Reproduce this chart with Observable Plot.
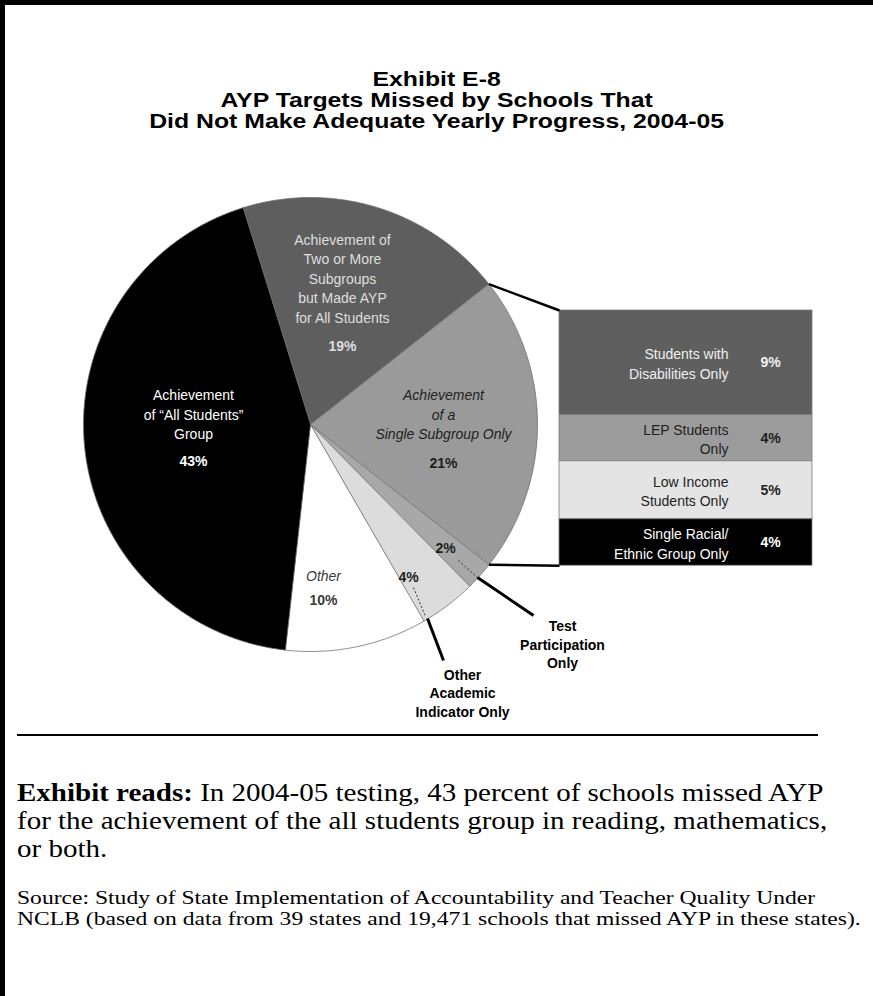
<!DOCTYPE html>
<html><head><meta charset="utf-8">
<script src="https://cdn.jsdelivr.net/npm/d3@7"></script>
<script src="https://cdn.jsdelivr.net/npm/@observablehq/plot@0.6"></script>
<style>
html,body{margin:0;padding:0;background:#fff;}
#page{position:relative;width:873px;height:996px;overflow:hidden;background:#fff;}
#bl{position:absolute;left:0;top:0;width:5px;height:996px;background:#000}
#bt{position:absolute;left:0;top:0;width:873px;height:5px;background:#000}
#title{position:absolute;top:69px;left:0;width:873px;text-align:center;font-family:"Liberation Sans",Arial,sans-serif;font-weight:bold;font-size:20px;line-height:21px;transform:scaleX(1.24);transform-origin:436px 0;}
#chart{position:absolute;left:0;top:170px;}
#rule{position:absolute;left:17px;top:734px;width:801px;height:2px;background:#000}
#reads{position:absolute;left:17px;top:779px;font-family:"Liberation Serif","Times New Roman",serif;font-size:25px;line-height:28px;white-space:nowrap;transform:scaleX(1.16);transform-origin:0 0;}
#source{position:absolute;left:17px;top:888px;font-family:"Liberation Serif","Times New Roman",serif;font-size:18px;line-height:21px;white-space:nowrap;transform:scaleX(1.31);transform-origin:0 0;}
</style></head>
<body>
<div id="page">
  <div id="bl"></div><div id="bt"></div>
  <div id="title">Exhibit E-8<br>AYP Targets Missed by Schools That<br>Did Not Make Adequate Yearly Progress, 2004-05</div>
  <div id="chart"></div>
  <div id="rule"></div>
  <div id="reads"><b>Exhibit reads:</b> In 2004-05 testing, 43 percent of schools missed AYP<br>for the achievement of the all students group in reading, mathematics,<br>or both.</div>
  <div id="source">Source: Study of State Implementation of Accountability and Teacher Quality Under<br>NCLB (based on data from 39 states and 19,471 schools that missed AYP in these states).</div>
</div>
<script>
// ---------- DATA ----------
const sliceNames = [
  "Achievement of\nTwo or More\nSubgroups\nbut Made AYP\nfor All Students",
  "Achievement\nof a\nSingle Subgroup Only",
  "Test\nParticipation\nOnly",
  "Other\nAcademic\nIndicator Only",
  "Other",
  "Achievement\nof \u201CAll Students\u201D\nGroup"
];
const slicePercents = [19, 21, 2, 4, 10, 43];

const subgroupNames = [
  "Students with\nDisabilities Only",
  "LEP Students\nOnly",
  "Low Income\nStudents Only",
  "Single Racial/\nEthnic Group Only"
];
const subgroupPercents = [9, 4, 5, 4];

// ---------- STYLES / LAYOUT ----------
const sliceFill = ["#5e5e5e", "#9a9a9a", "#a8a8a8", "#dcdcdc", "#ffffff", "#000000"];
const nameColor = ["#dedede", "#1e1e1e", "#000000", "#000000", "#3a3a3a", "#ffffff"];
const pctColor  = ["#dedede", "#1e1e1e", "#1e1e1e", "#1e1e1e", "#3a3a3a", "#ffffff"];
const nameStyle = ["normal", "italic", "normal", "normal", "italic", "normal"];
const nameWeight = ["normal", "normal", "bold", "bold", "normal", "normal"];
const nameLine = [1.4, 1.4, 1.35, 1.3, 1.4, 1.4];
// label offsets from pie centre in px (x right, y down)
const namePos = [[32,-147],[133,-11],[252,219],[152,268],[13,150],[-117,-11]];
const pctPos  = [[32,-78],[133,39],[135,124],[98,153],[13,176],[-117,37]];
const subFill = ["#5f5f5f", "#9c9c9c", "#e4e4e4", "#000000"];
const subText = ["#f0f0f0", "#1e1e1e", "#1e1e1e", "#ffffff"];

const W = 873, H = 560, RPX = 227, CXP = 310, CYP = 254;
const u = px => px / RPX;                 // px -> data units
const START = -17.3 * Math.PI / 180;
const BOX = {left: 249, right: 502, top: -114}; // px relative to pie centre
const PXPCT = 11.6;                         // px per percent in breakdown

// ---------- GEOMETRY ----------
const arcs = d3.pie().sort(null).startAngle(START).endAngle(START + 2 * Math.PI)(slicePercents);
const polar = (a, r) => ({x: Math.sin(a) * r, y: Math.cos(a) * r});
function slicePoly(arc) {
  const pts = [{x: 0, y: 0}];
  const n = Math.max(3, Math.ceil((arc.endAngle - arc.startAngle) / (Math.PI / 360)));
  for (let i = 0; i <= n; i++) pts.push(polar(arc.startAngle + (arc.endAngle - arc.startAngle) * i / n, 1));
  return pts;
}

const sliceMarks = arcs.map((a, i) =>
  Plot.line(slicePoly(a), {x: "x", y: "y", curve: "linear-closed", fill: sliceFill[i], stroke: "#6e6e6e", strokeWidth: 0.8}));

const nameData = sliceNames.map((t, i) => ({t, i, x: u(namePos[i][0]), y: -u(namePos[i][1])}));
const pctData = slicePercents.map((v, i) => ({t: v + "%", i, x: u(pctPos[i][0]), y: -u(pctPos[i][1])}));

const nameMarks = nameData.map(d => Plot.text([d], {x: "x", y: "y", text: "t", fill: nameColor[d.i], fontStyle: nameStyle[d.i], fontWeight: nameWeight[d.i], fontSize: 14, lineHeight: nameLine[d.i]}));
const pctMarks = pctData.map(d => Plot.text([d], {x: "x", y: "y", text: "t", fill: pctColor[d.i], fontWeight: "bold", fontSize: 14}));

// breakdown box as a stack
let cum = 0;
const rows = subgroupPercents.map((v, i) => {
  const y1 = u(-BOX.top) - u(cum * PXPCT);
  cum += v;
  const y2 = u(-BOX.top) - u(cum * PXPCT);
  return {i, name: subgroupNames[i], pct: v + "%", y1, y2, ym: (y1 + y2) / 2, x1: u(BOX.left), x2: u(BOX.right)};
});
const boxBottom = rows[rows.length - 1].y2;

const pTop = polar(arcs[1].startAngle, 1), pBot = polar(arcs[1].endAngle, 1);
const connectors = [
  {x1: pTop.x, y1: pTop.y, x2: u(BOX.left), y2: u(-BOX.top)},
  {x1: pBot.x, y1: pBot.y, x2: u(BOX.left), y2: boxBottom}
];
const lead = (p, q) => ({x1: u(p[0]), y1: -u(p[1]), x2: u(q[0]), y2: -u(q[1])});
const dashed = [lead([148,136],[167,153]), lead([103,163],[115,192])];
const solid  = [lead([167,153],[223,191]), lead([117,194],[133,236])];

const chart = Plot.plot({
  width: W, height: H, margin: 0,
  x: {domain: [u(-CXP), u(W - CXP)], axis: null},
  y: {domain: [u(-(H - CYP)), u(CYP)], axis: null},
  style: {fontFamily: "'Liberation Sans', Arial, sans-serif", background: "transparent"},
  marks: [
    ...sliceMarks,
    Plot.rect(rows, {x1: "x1", x2: "x2", y1: "y1", y2: "y2", fill: d => subFill[d.i], stroke: "#7a7a7a", strokeWidth: 0.8}),
    Plot.link(connectors, {x1: "x1", y1: "y1", x2: "x2", y2: "y2", stroke: "#000", strokeWidth: 2.5}),
    Plot.link(dashed, {x1: "x1", y1: "y1", x2: "x2", y2: "y2", stroke: "#333", strokeWidth: 1, strokeDasharray: "2,2"}),
    Plot.link(solid, {x1: "x1", y1: "y1", x2: "x2", y2: "y2", stroke: "#000", strokeWidth: 3}),
    ...nameMarks,
    ...pctMarks,
    Plot.text(rows, {x: u(BOX.right - 84), y: "ym", text: "name", textAnchor: "end", fill: d => subText[d.i], fontSize: 14, lineHeight: 1.4}),
    Plot.text(rows, {x: u(BOX.right - 42), y: "ym", text: "pct", fill: d => subText[d.i], fontSize: 14, fontWeight: "bold"})
  ]
});
document.getElementById("chart").appendChild(chart);
</script>
</body></html>
